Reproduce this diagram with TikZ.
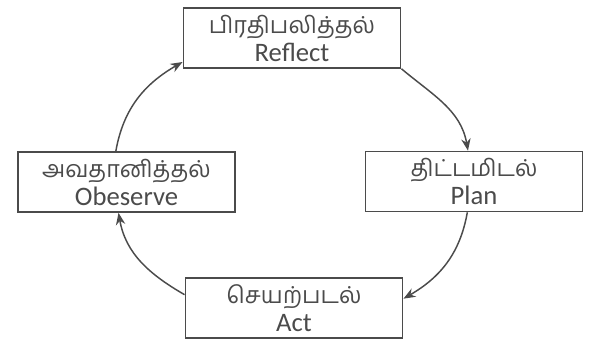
\documentclass[tikz,border=0pt]{standalone}
\usepackage{fontspec}
\setmainfont{Carlito}
\newfontfamily\tamil[Script=Tamil]{Hind Madurai}
\usetikzlibrary{arrows.meta}
\definecolor{ink}{RGB}{75,75,75}
\newcommand{\tm}[1]{{\tamil\fontsize{17.5}{19}\selectfont #1}}
\begin{document}
\begin{tikzpicture}[x=0.75pt, y=0.75pt,
  stagebox/.style={draw=ink, line width=1.2pt, minimum width=163pt, minimum height=45pt,
    text=ink, align=center, inner sep=0pt, font=\fontsize{20}{21}\selectfont},
  cyc/.style={draw=ink, line width=1.1pt, -{Stealth[length=9pt, width=7pt]}}]
\useasboundingbox (0,0) rectangle (600,340);

\node [stagebox] (reflect) at (292,302) {\tm{பிரதிபலித்தல்}\\Reflect};
\node [stagebox] (plan) at (474,158.5) {\tm{திட்டமிடல்}\\Plan};
\node [stagebox] (act) at (294,32) {\tm{செயற்படல்}\\Act};
\node [stagebox] (observe) at (126.5,158) {\tm{அவதானித்தல்}\\Obeserve};

\draw [cyc] (reflect.south east) to[out=-40, in=100] ([xshift=-4.5pt]plan.north);
\draw [cyc] ([xshift=-5pt]plan.south) to[out=-100, in=30] ([yshift=7pt]act.east);
\draw [cyc] ([yshift=10pt]act.west) to[out=150, in=-80] ([xshift=-6pt]observe.south);
\draw [cyc] ([xshift=-8pt]observe.north) to[out=80, in=210] ([yshift=-18pt]reflect.west);
\end{tikzpicture}
\end{document}
